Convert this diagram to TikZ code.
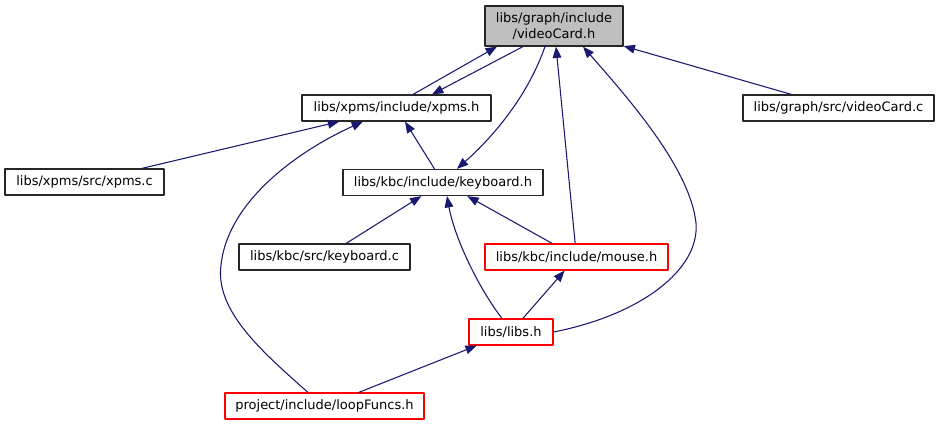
\documentclass[tikz,border=0pt]{standalone}
\usepackage{fontspec}
\setmainfont{DejaVu Sans}
\usetikzlibrary{arrows.meta}

\definecolor{edgeblue}{RGB}{25,25,112}
\definecolor{rootgray}{RGB}{191,191,191}
\definecolor{boxred}{RGB}{255,0,0}

\begin{document}
\begin{tikzpicture}[x=0.75pt,y=-0.75pt,line cap=round,line join=round,
        file/.style={draw=black!85,fill=white,line width=0.9pt,inner sep=0pt,
            minimum height=19.5pt,font=\fontsize{9.75}{12}\selectfont},
        redfile/.style={file,draw=boxred},
        dep/.style={edgeblue,line width=0.8pt,-{Triangle[length=8.5pt,width=6.5pt]}}]
        \useasboundingbox (0,0) rectangle (940,425);

        % Ficheros
        \node[file,fill=rootgray,align=center,minimum width=103.5pt,minimum height=30pt]
            (vch) at (554,26) {libs/graph/include\\/videoCard.h};
        \node[file,minimum width=141.75pt] (xpmsh) at (396.5,108) {libs/xpms/include/xpms.h};
        \node[file,minimum width=143.25pt] (vcc) at (838.5,108) {libs/graph/src/videoCard.c};
        \node[file,minimum width=119.25pt] (xpmsc) at (84.5,182) {libs/xpms/src/xpms.c};
        \node[file,minimum width=150pt] (kbh) at (443,182.5) {libs/kbc/include/keyboard.h};
        \node[file,minimum width=128.25pt] (kbc) at (324.5,257) {libs/kbc/src/keyboard.c};
        \node[redfile,minimum width=137.25pt] (mouseh) at (576.5,257) {libs/kbc/include/mouse.h};
        \node[redfile,minimum width=63pt] (libsh) at (511,332) {libs/libs.h};
        \node[redfile,minimum width=149.25pt] (loopf) at (324.5,406) {project/include/loopFuncs.h};

        % Dependencias rectas
        \draw[dep] ([xshift=12.4pt]xpmsh.north) -- ([xshift=-42.75pt]vch.south);
        \draw[dep] ([xshift=-23.25pt]vch.south) -- ([xshift=26.6pt]xpmsh.north);
        \draw[dep] (vcc) -- (vch);
        \draw[dep] (mouseh) -- (vch);
        \draw[dep] (xpmsc) -- (xpmsh);
        \draw[dep] (kbh) -- (xpmsh);
        \draw[dep] (kbc) -- (kbh);
        \draw[dep] (mouseh) -- (kbh);
        \draw[dep] (libsh) -- (mouseh);
        \draw[dep] (loopf) -- (libsh);

        % Dependencias curvas
        \draw[dep] ([xshift=-6.75pt]vch.south)
            .. controls (528,95) and (495,135) .. ([xshift=10.5pt]kbh.north);
        \draw[dep] ([xshift=-6.75pt]libsh.north)
            .. controls (480,290) and (455,240) .. ([xshift=3pt]kbh.south);
        \draw[dep] (libsh.east)
            .. controls (640,315) and (700,270) .. (696,223)
            .. controls (690,168) and (628,98) .. ([xshift=21.75pt]vch.south);
        \draw[dep] ([xshift=-12.4pt]loopf.north)
            .. controls (260,350) and (215,310) .. (221,265)
            .. controls (228,200) and (300,150) .. ([xshift=-25.1pt]xpmsh.south);

    \end{tikzpicture}
\end{document}
